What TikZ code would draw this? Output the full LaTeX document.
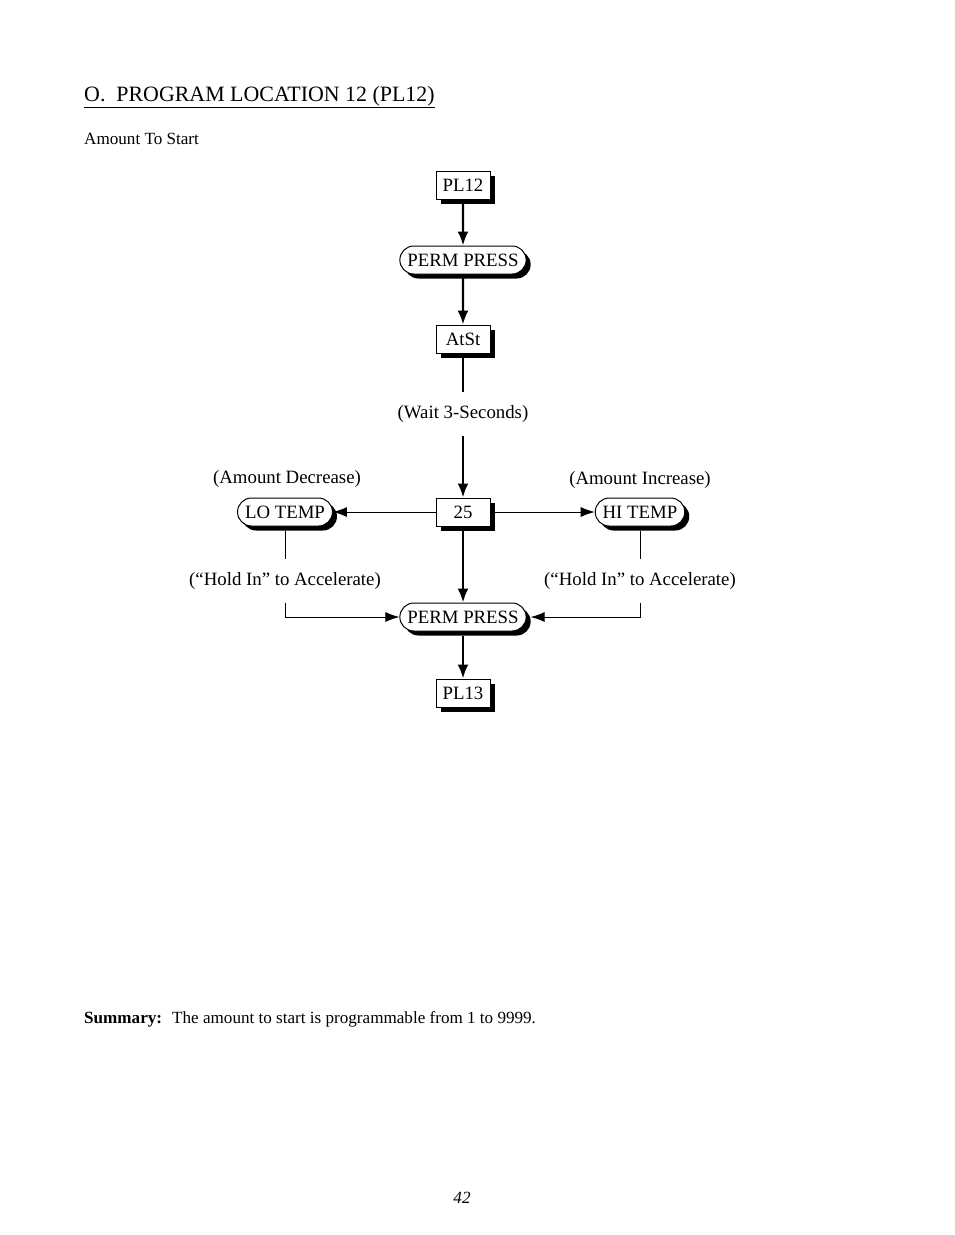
\documentclass[tikz,border=0pt]{standalone}
\usepackage{fontspec}
\setmainfont{Liberation Serif}
\usetikzlibrary{arrows.meta,shapes.misc,shadows}
\begin{document}
\begin{tikzpicture}[x=1pt,y=-1pt,
  every node/.style={font=\fontsize{18.8}{22}\selectfont},
  sbox/.style={draw=black,line width=1pt,fill=white,minimum width=54pt,minimum height=28pt,inner sep=2pt,
    drop shadow={shadow xshift=4.5pt,shadow yshift=-4.5pt,opacity=1,fill=black}},
  sround/.style={draw=black,line width=1pt,fill=white,rounded rectangle,minimum height=28pt,inner xsep=6pt,inner ysep=2pt,
    drop shadow={shadow xshift=4.5pt,shadow yshift=-4.5pt,opacity=1,fill=black}},
  lbl/.style={inner sep=0pt},
  thickarrow/.style={line width=2.4pt,-{Latex[length=14pt,width=11pt]}},
  thinarrow/.style={line width=0.9pt,-{Latex[length=14pt,width=10pt]}},
  thinline/.style={line width=0.9pt},
  thickline/.style={line width=2.4pt}
]
\useasboundingbox[fill=white] (0,0) rectangle (954,1235);

\node[lbl,anchor=base west,font=\fontsize{21.9}{26}\selectfont] (title) at (84,101) {\underline{O.\ \ PROGRAM LOCATION 12 (PL12)}};
\node[lbl,anchor=base west,font=\fontsize{17.1}{20}\selectfont] (sub) at (84,144) {Amount To Start};

\node[sbox] (pl12) at (463,185) {PL12};
\node[sround] (pp1) at (463,260) {PERM PRESS};
\node[sbox] (atst) at (463,339) {AtSt};
\node[lbl,inner ysep=13pt] (wait) at (463,414) {(Wait 3-Seconds)};
\node[sbox] (n25) at (463,512) {25};
\node[sround] (lo) at (285,512) {LO TEMP};
\node[sround] (hi) at (640,512) {HI TEMP};
\node[lbl] (dec) at (287,479) {(Amount Decrease)};
\node[lbl] (inc) at (640,480) {(Amount Increase)};
\node[lbl,inner ysep=13pt] (holdl) at (285,581) {(“Hold In” to Accelerate)};
\node[lbl,inner ysep=13pt] (holdr) at (640,581) {(“Hold In” to Accelerate)};
\node[sround] (pp2) at (463,617) {PERM PRESS};
\node[sbox] (pl13) at (463,693) {PL13};

\draw[thickarrow] (pl12) -- (pp1);
\draw[thickarrow] (pp1) -- (atst);
\draw[thickline] (atst.south) ++(0,4) -- (wait.north);
\draw[thickarrow] (wait.south) -- (n25.north);
\draw[thinarrow] (n25.west) -- (lo.east);
\draw[thinarrow] (n25.east) ++(4,0) -- (hi.west);
\draw[thickarrow] (n25.south) ++(0,4) -- (pp2.north);
\draw[thinline] (lo.south) ++(0,4) -- (holdl.north);
\draw[thinline] (hi.south) ++(0,4) -- (holdr.north);
\draw[thinarrow] (holdl.south) |- (pp2.west);
\draw[thinarrow] (holdr.south) |- ([xshift=4pt]pp2.east);
\draw[thickarrow] (pp2.south) ++(0,4) -- (pl13.north);

\node[lbl,anchor=base west,font=\fontsize{17.1}{20}\selectfont\bfseries] (sumh) at (84,1023) {Summary:};
\node[lbl,anchor=base west,font=\fontsize{17.1}{20}\selectfont] (sumt) at (172,1023) {The amount to start is programmable from 1 to 9999.};
\node[lbl,anchor=base,font=\fontsize{17.1}{20}\selectfont\itshape] (page) at (462,1203) {42};
\end{tikzpicture}
\end{document}
